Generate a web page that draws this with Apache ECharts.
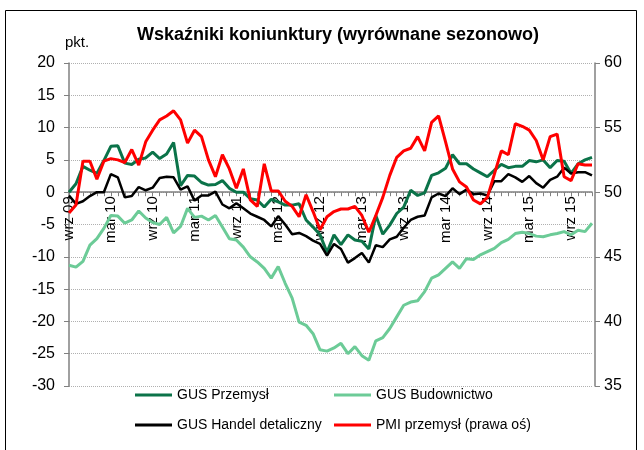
<!DOCTYPE html>
<html>
<head>
<meta charset="utf-8">
<script src="https://cdn.jsdelivr.net/npm/echarts@6.0.0/dist/echarts.min.js"></script>
<style>
  html, body { margin: 0; padding: 0; background: #fff; }
  #chart { width: 644px; height: 450px; }
</style>
</head>
<body>
<div id="chart"></div>
<script>
// miesiace od wrz 09 do gru 15
var monthNames = ['sty', 'lut', 'mar', 'kwi', 'maj', 'cze', 'lip', 'sie', 'wrz', 'paź', 'lis', 'gru'];
var categories = [];
for (var y = 2009; y <= 2015; y++) {
    for (var m = 0; m < 12; m++) {
        if (y === 2009 && m < 8) continue;
        categories.push(monthNames[m] + ' ' + String(y).slice(2));
    }
}

var przemysl = [0.0, 1.3, 4.0, 3.4, 2.9, 4.9, 7.1, 7.2, 4.5, 4.3, 5.1, 5.3, 6.2, 5.2, 5.9, 7.7,
    1.0, 2.6, 2.5, 1.5, 1.1, 1.2, 1.8, 0.6, 0.0, 0.0, -1.0, -1.2, -2.3, -1.1, -1.5, -2.0,
    -2.0, -1.8, -4.3, -5.4, -6.6, -9.3, -6.6, -8.1, -6.6, -7.4, -7.6, -8.8, -3.6, -6.5, -5.1, -3.3,
    -2.3, 0.3, -0.5, -0.1, 2.6, 3.0, 3.7, 5.8, 4.4, 4.4, 3.6, 3.0, 2.4, 3.4, 4.3, 3.8,
    4.0, 4.0, 4.9, 4.7, 5.0, 3.8, 4.9, 4.8, 2.9, 4.4, 5.0, 5.4];

var budownictwo = [-11.3, -11.6, -10.7, -8.2, -7.2, -5.6, -3.6, -3.7, -4.8, -4.3, -2.9, -4.0, -4.7, -5.0, -3.9, -6.3,
    -5.3, -2.5, -3.9, -3.7, -4.3, -3.6, -5.4, -7.2, -7.4, -8.5, -10.0, -10.8, -11.8, -13.3, -11.5, -14.1,
    -16.4, -20.1, -20.6, -21.9, -24.4, -24.6, -24.1, -23.4, -25.0, -23.9, -25.3, -26.0, -23.0, -22.5, -21.1, -19.3,
    -17.5, -17.0, -16.8, -15.4, -13.3, -12.8, -11.8, -10.8, -11.8, -10.3, -10.4, -9.7, -9.2, -8.7, -7.8, -7.3,
    -6.4, -6.2, -6.4, -6.8, -6.9, -6.6, -6.4, -6.1, -6.6, -5.9, -6.1, -4.8];

var handel = [-0.5, -1.8, -1.4, -0.6, 0.0, 0.0, 2.8, 2.3, -0.8, -0.6, 0.8, 0.3, 0.7, 2.2, 2.4, 2.3,
    0.4, 0.9, -1.3, -0.5, -0.5, 0.1, -1.9, -2.5, -1.7, -2.5, -3.3, -3.8, -4.3, -5.3, -3.7, -5.0,
    -6.5, -6.3, -6.8, -7.5, -8.0, -9.8, -8.0, -8.8, -10.9, -10.2, -9.4, -10.9, -8.2, -8.5, -7.3, -6.9,
    -5.5, -4.3, -3.8, -3.6, -0.8, -0.2, -0.6, 0.6, -0.3, 0.4, -0.3, -0.2, -0.5, 1.7, 1.7, 2.8,
    2.3, 1.6, 2.5, 1.4, 0.7, 1.9, 2.4, 3.8, 2.9, 3.1, 3.1, 2.6];

var pmi = [48.4, 49.0, 52.4, 52.4, 51.0, 52.4, 52.6, 52.5, 52.3, 53.3, 52.1, 53.9, 54.8, 55.6, 55.9, 56.3,
    55.6, 53.8, 54.8, 54.3, 52.5, 51.2, 52.9, 51.8, 50.3, 51.8, 49.4, 48.9, 52.2, 50.1, 50.1, 49.3,
    48.9, 48.1, 49.8, 48.5, 47.1, 48.1, 48.5, 48.7, 48.7, 48.9, 48.2, 46.9, 48.2, 49.6, 51.3, 52.7,
    53.2, 53.4, 54.3, 53.2, 55.4, 55.9, 53.9, 51.8, 50.8, 50.4, 49.4, 49.1, 49.6, 51.4, 53.2, 52.9,
    55.3, 55.1, 54.8, 54.0, 52.5, 54.3, 54.5, 51.2, 50.9, 52.2, 52.1, 52.1];

var leftTicks = { min: -30, max: 20, step: 5 };
var rightTicks = { min: 35, max: 60, step: 5 };

var fontName = '"Liberation Sans", Arial, sans-serif';
var chart = echarts.init(document.getElementById('chart'), null, { renderer: 'canvas' });

// the x axis sits on the zero line: a second grid ending at y=0 carries it
var plotLeft = 69, plotRight = 52, plotTop = 63, plotBottom = 64;
var plotHeight = 450 - plotTop - plotBottom;
var zeroFromTop = plotHeight * leftTicks.max / (leftTicks.max - leftTicks.min);

var option = {
    animation: false,
    backgroundColor: '#ffffff',
    title: {
        text: 'Wskaźniki koniunktury (wyrównane sezonowo)',
        left: 137,
        top: 26,
        padding: 0,
        textStyle: { fontFamily: fontName, fontSize: 18, fontWeight: 'bold', color: '#000' }
    },
    graphic: [
        {
            type: 'rect',
            shape: { x: 5.5, y: 10.5, width: 631, height: 460 },
            style: { fill: 'none', stroke: '#000', lineWidth: 1 },
            silent: true
        },
        {
            type: 'text',
            left: 65,
            top: 35,
            style: { text: 'pkt.', font: '15px ' + fontName, fill: '#000' }
        }
    ],
    legend: [{
        data: ['GUS Przemysł', 'GUS Handel detaliczny'],
        orient: 'vertical',
        left: 135,
        top: 388,
        padding: 0,
        itemGap: 16,
        itemWidth: 37,
        itemHeight: 3,
        icon: 'rect',
        textStyle: { fontFamily: fontName, fontSize: 14, color: '#000' }
    }, {
        data: ['GUS Budownictwo', 'PMI przemysł (prawa oś)'],
        orient: 'vertical',
        left: 334,
        top: 388,
        padding: 0,
        itemGap: 16,
        itemWidth: 37,
        itemHeight: 3,
        icon: 'rect',
        textStyle: { fontFamily: fontName, fontSize: 14, color: '#000' }
    }],
    grid: [
        { left: plotLeft, right: plotRight, top: plotTop, bottom: plotBottom, containLabel: false },
        { left: plotLeft, right: plotRight, top: plotTop, height: zeroFromTop, containLabel: false }
    ],
    xAxis: [{
        type: 'category',
        gridIndex: 0,
        data: categories,
        boundaryGap: false,
        axisLine: { show: false },
        axisTick: { show: false },
        axisLabel: { show: false },
        splitLine: { show: false }
    }, {
        type: 'category',
        gridIndex: 1,
        data: categories,
        boundaryGap: false,
        position: 'bottom',
        axisLine: { show: true, onZero: false, lineStyle: { color: '#808080', width: 1.5 } },
        axisTick: { show: true, interval: 0, length: 4, lineStyle: { color: '#808080' } },
        axisLabel: {
            interval: 5,
            rotate: 90,
            margin: 4,
            fontFamily: fontName,
            fontSize: 15,
            color: '#000'
        },
        splitLine: { show: false }
    }],
    yAxis: [{
        type: 'value',
        gridIndex: 0,
        min: leftTicks.min,
        max: leftTicks.max,
        interval: leftTicks.step,
        axisLine: { show: true, lineStyle: { color: '#808080', width: 1.5 } },
        axisTick: { show: true, length: 5, lineStyle: { color: '#808080' } },
        axisLabel: { margin: 14, fontFamily: fontName, fontSize: 16, color: '#000' },
        splitLine: { show: true, lineStyle: { color: '#b0b0b0', type: 'dotted', width: 1 } }
    }, {
        type: 'value',
        gridIndex: 0,
        position: 'right',
        offset: 3,
        min: rightTicks.min,
        max: rightTicks.max,
        interval: rightTicks.step,
        axisLine: { show: true, lineStyle: { color: '#808080', width: 1.5 } },
        axisTick: { show: true, length: 5, lineStyle: { color: '#808080' } },
        axisLabel: { margin: 9, fontFamily: fontName, fontSize: 16, color: '#000' },
        splitLine: { show: false }
    }, {
        type: 'value',
        gridIndex: 1,
        min: 0,
        max: 1,
        show: false
    }],
    series: [{
        name: 'GUS Przemysł',
        type: 'line',
        data: przemysl,
        yAxisIndex: 0,
        symbol: 'none',
        color: '#0b7349',
        lineStyle: { width: 3 }
    }, {
        name: 'GUS Budownictwo',
        type: 'line',
        data: budownictwo,
        yAxisIndex: 0,
        symbol: 'none',
        color: '#6ccb97',
        lineStyle: { width: 3 }
    }, {
        name: 'GUS Handel detaliczny',
        type: 'line',
        data: handel,
        yAxisIndex: 0,
        symbol: 'none',
        color: '#000000',
        lineStyle: { width: 2.5 }
    }, {
        name: 'PMI przemysł (prawa oś)',
        type: 'line',
        data: pmi,
        yAxisIndex: 1,
        symbol: 'none',
        color: '#ff0000',
        lineStyle: { width: 3 }
    }]
};
chart.setOption(option);
</script>
</body>
</html>
